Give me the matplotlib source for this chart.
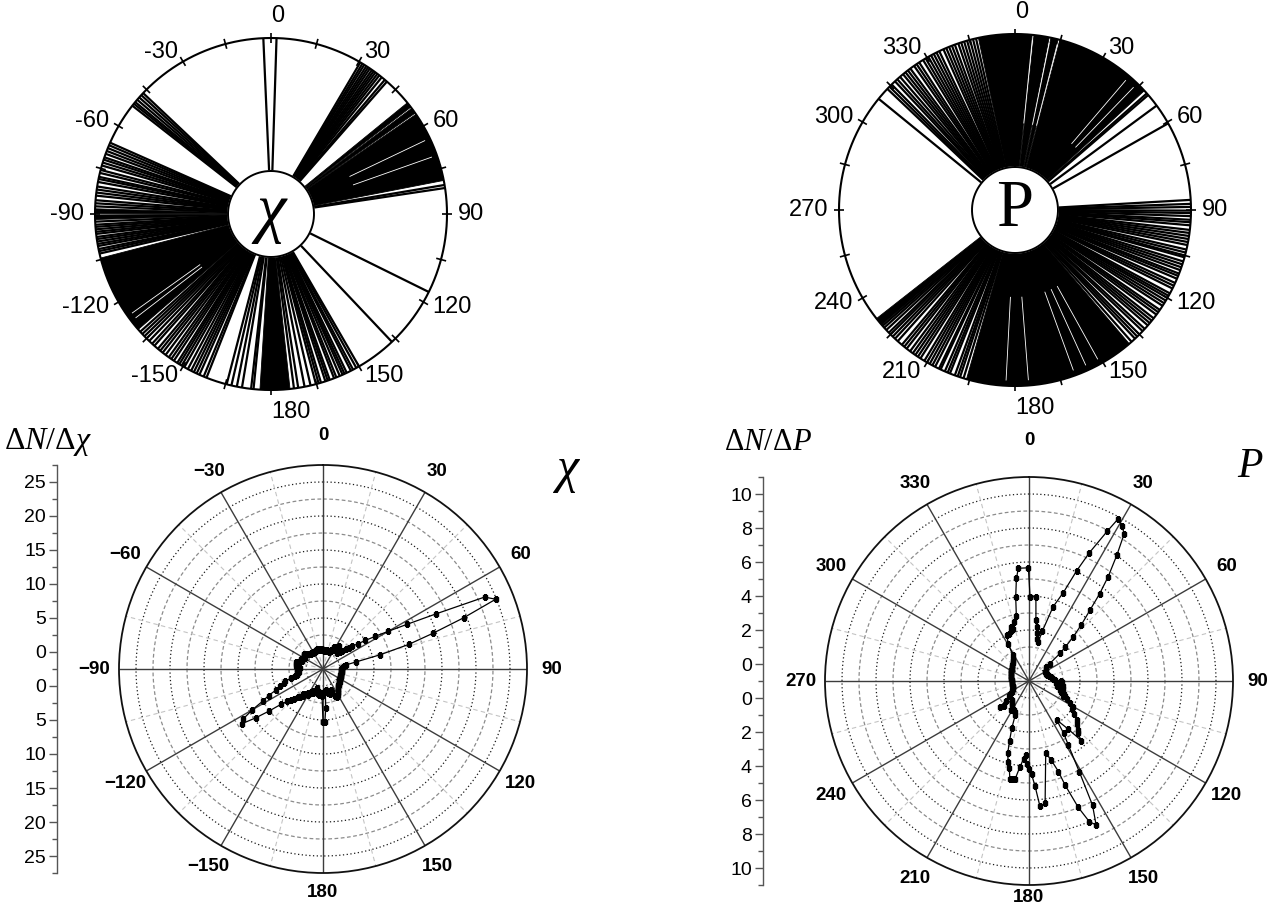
import numpy as np
import matplotlib
matplotlib.use("Agg")
import matplotlib.pyplot as plt
from matplotlib.transforms import ScaledTranslation

plt.rcParams["font.family"] = ["Liberation Sans", "DejaVu Sans"]
plt.rcParams["mathtext.fontset"] = "custom"
plt.rcParams["mathtext.rm"] = "Liberation Serif"
plt.rcParams["mathtext.it"] = "Liberation Serif:italic"

# ---------------- data ----------------
# individual directions (deg, clockwise from top) drawn as spokes in the wheels
chi_spokes = [-2.5, 1.8,
              30.5, 31.3, 32.0, 32.8, 33.5, 34.2, 35.0, 35.7, 36.4, 37.2, 38.0, 39.0, 40.3, 41.2,
              80.5, 81.5, 116.3, 136.6,
              150.0, 151.0, 152.2, 153.0, 154.5, 155.3, 156.0, 157.0, 158.2, 159.0, 160.5, 161.2,
              162.0, 163.5, 164.3, 165.2, 167.0, 169.0, 171.1, 172.5,
              -174.3, -173.5, -170.5, -168.8, -167.0, -165.4,
              -158.5, -157.5, -156.0, -155.0, -154.0, -153.0, -151.8, -150.5, -149.5, -148.6,
              -147.8, -146.5, -145.5, -144.5, -143.2, -142.0, -141.0, -140.0, -138.5, -137.5,
              -136.2, -135.0, -134.0, -133.0, -132.0,
              -103.0, -102.2, -101.5, -100.5, -99.8, -99.0, -98.2, -97.5, -96.5, -95.8, -95.0,
              -94.2, -93.5, -92.5, -87.5, -86.5, -85.5,
              -84.0, -83.0, -82.0, -81.0, -79.5, -78.5, -77.8, -76.5, -75.5, -74.0, -73.0, -72.0,
              -71.2, -70.0, -69.0, -68.0, -67.0, -66.1,
              -52.0, -51.2, -50.5, -49.5, -48.5, -47.5, -46.6]
chi_bands = [(50.8, 52.6), (53.1, 55.0), (55.5, 79.0), (173.8, 183.6),
             (-131.0, -104.5), (-91.8, -90.3), (-89.8, -88.3)]
chi_gaps = [-127.5, -125.5, 64.5, 70.5]

p_spokes = [48.5, 49.2, 53.6, 60.5,
            86.7, 88.0, 89.0, 90.2, 91.0, 92.0, 93.2, 94.0, 95.0, 96.5, 97.5, 98.5, 99.5, 100.5,
            101.5, 103.0, 104.0, 105.0, 105.6, 107.0, 108.0, 109.0, 110.0, 111.2, 112.0, 113.0,
            114.5, 115.5, 116.5, 118.3, 119.2, 120.0, 121.0, 122.0, 123.0, 124.6, 125.5, 126.5,
            128.0, 129.0, 130.0, 131.0, 132.5, 133.5, 135.0, 136.0, 137.0, 138.5,
            197.0, 198.2, 199.0, 200.0, 201.7, 202.5, 203.5, 205.0, 205.6, 207.0, 208.0, 209.0,
            210.0, 211.0, 212.5, 213.5, 214.5, 215.5, 216.6, 218.0, 219.0, 220.0, 221.8, 223.0,
            224.0, 225.0, 225.8, 227.0, 228.0, 228.8,
            309.2, 313.5, 314.5, 315.5, 317.0, 318.0, 319.2, 320.5, 321.5, 322.5, 323.5, 325.0,
            326.0, 327.0, 328.5, 329.5, 330.5, 331.5, 332.5, 333.5, 334.5, 336.0, 337.0, 338.0,
            339.0, 340.0, 341.2, 342.2, 343.2, 344.2, 345.2, 346.2, 347.2]
p_bands = [(348.0, 365.6), (366.2, 371.2), (371.8, 374.2), (374.8, 407.3),
           (139.5, 196.0), (229.2, 231.9)]
p_gaps = [5.8, 11.6, 14.3, 40.5, 44.0, 151.0, 155.5, 160.0, 175.5, 183.0]

# distribution dN/dchi over chi (deg)
chi_angles = list(range(-180, 180, 2))
chi_density = [5.3, 1.5, 1.2, 1.0, 1.3, 1.0, 0.8, 1.2, 0.8, 0.5,
               0.9, 1.3, 1.0, 1.5, 1.3, 1.9, 1.6, 2.0, 2.4, 2.2,
               2.8, 3.0, 3.6, 4.0, 4.6, 5.6, 7.5, 9.7, 11.9, 11.3,
               9.5, 7.5, 6.4, 5.0, 4.3, 3.6, 3.3, 2.4, 1.8, 1.4,
               1.3, 1.1, 1.4, 1.2, 1.3, 1.2, 0.9, 1.3, 1.5, 1.2,
               1.6, 1.4, 1.6, 1.3, 1.1, 0.8, 0.9, 1.0, 0.7, 0.9,
               0.8, 0.6, 0.8, 0.9, 1.1, 0.7, 0.9, 0.6, 0.5, 0.4,
               0.4, 0.3, 0.4, 0.3, 0.3, 0.4, 0.3, 0.3, 0.4, 0.3,
               0.4, 0.5, 0.5, 0.4, 0.5, 0.4, 0.3, 0.4, 0.5, 0.4,
               0.3, 0.3, 0.2, 0.3, 0.2, 0.3, 0.3, 0.2, 0.3, 0.2,
               0.3, 0.5, 0.4, 0.8, 1.1, 0.8, 1.4, 1.3, 1.6, 1.2,
               0.9, 0.6, 1.0, 1.4, 2.0, 2.4, 2.9, 3.8, 5.0, 6.6,
               8.6, 11.5, 16.0, 23.5, 24.9, 19.5, 14.5, 10.6, 6.2, 2.5,
               0.9, 0.6, 0.4, 0.3, 0.3, 0.2, 0.2, 0.3, 0.2, 0.3,
               0.3, 0.2, 0.3, 0.3, 0.2, 0.3, 0.3, 0.4, 0.3, 0.4,
               0.3, 0.4, 0.5, 0.4, 0.6, 0.5, 0.7, 0.8, 0.7, 0.9,
               1.0, 1.2, 1.3, 1.5, 1.7, 1.9, 2.0, 2.1, 1.9, 1.2,
               0.8, 1.0, 1.3, 0.9, 1.1, 0.8, 0.6, 0.8, 3.3, 5.3]

# distribution dN/dP over P (deg)
p_angles = [0.7, 4.7, 6.5, 8, 9.1, 11, 13.3, 15, 18, 21.2, 23.4, 25.2, 27.6, 28.8, 31, 32.9,
            34.9, 37.2, 39, 40.7, 43, 45, 47, 48.3, 50, 52, 55, 58, 61, 64, 67, 70, 73, 76, 79,
            82, 85, 88, 90, 92, 94, 96, 98, 100, 102, 104, 106, 108, 110, 112, 114, 116, 118,
            120, 123, 126, 129, 132, 134.8, 137, 138.7, 141, 144.6, 146.5, 148.4, 151, 152.9,
            155, 156.8, 158.7, 160.9, 162, 164.4, 167, 172.5, 175, 176.7, 178.4, 180, 181.6,
            182.6, 184, 186, 188, 189.5, 191, 192.7, 194.5, 196.4, 198, 200, 202, 205, 208,
            211, 214, 217, 220, 222, 225, 227.8, 230, 233, 236, 239, 242, 245, 248, 251, 254,
            257, 260, 263, 266, 269, 272, 275, 278, 281, 284, 287, 290, 293, 296, 299, 302,
            305, 308, 311, 314, 318, 321, 324, 328, 331, 334, 337, 340, 342, 343, 346, 349,
            351, 353, 354.6, 359.7]
p_density = [3.96, 3.96, 2.6, 2.2, 1.84, 1.5, 1.38, 2.05, 3.6, 4.57, 6.07, 7.34, 8.95, 9.88,
             9.64, 9.3, 8.04, 6.7, 5.6, 4.5, 3.5, 2.7, 1.9, 1.44, 0.6, 0.3, 0.2, 0.15, 0.1,
             0.1, 0.1, 0.1, 0.15, 0.2, 0.3, 0.35, 0.4, 0.55, 0.9, 0.95, 0.6, 0.9, 1.0, 0.7,
             0.85, 1.05, 0.9, 1.0, 1.2, 1.3, 1.2, 1.46, 1.7, 2.0, 2.0, 2.3, 2.6, 2.8, 3.1, 3.2,
             3.67, 2.6, 1.8, 2.7, 3.4, 5.1, 7.2, 8.34, 8.0, 6.98, 5.47, 4.6, 3.8, 3.37, 6.26,
             6.4, 5.2, 4.5, 4.2, 3.9, 3.36, 3.6, 4.07, 4.8, 4.85, 4.9, 4.27, 3.9, 3.44, 2.7,
             1.97, 1.16, 1.0, 0.9, 1.0, 0.8, 0.7, 0.6, 0.5, 1.1, 1.3, 0.8, 0.5, 0.35, 0.2, 0.1,
             0.05, 0.0, 0.0, 0.0, 0.05, 0.0, 0.0, 0.0, 0.0, 0.0, 0.05, 0.05, 0.1, 0.1, 0.1,
             0.15, 0.15, 0.2, 0.2, 0.25, 0.2, 0.3, 0.3, 0.35, 0.39, 0.5, 0.6, 0.8, 1.5, 2.0,
             2.0, 2.1, 2.37, 2.2, 2.6, 2.9, 4.0, 5.08, 5.66, 5.66]

label_angles = [0, 30, 60, 90, 120, 150, 180, 210, 240, 270, 300, 330]
chi_labels = ["0", "30", "60", "90", "120", "150", "180", "-150", "-120", "-90", "-60", "-30"]
p_labels = [str(a) for a in label_angles]

chi_axis_major = [0, 5, 10, 15, 20, 25]
p_axis_major = [0, 2, 4, 6, 8, 10]

# ---------------- figure ----------------
W, H, DPI = 1267, 913, 100
fig = plt.figure(figsize=(W / DPI, H / DPI), dpi=DPI)
fig.patch.set_facecolor("white")


def box(cx, cy, half):
    return [(cx - half) / W, 1 - (cy + half) / H, 2 * half / W, 2 * half / H]


def polar_axes(cx, cy, half):
    ax = fig.add_axes(box(cx, cy, half), projection="polar")
    ax.set_theta_zero_location("N")
    ax.set_theta_direction(-1)
    return ax


def wheel(cx, cy, R, r_in_px, spokes, bands, gaps, labels, letter, letter_style):
    ax = polar_axes(cx, cy, R)
    ax.set_ylim(0, 1)
    ax.set_axis_off()
    r_in = r_in_px / R
    for a, b in bands:
        ax.bar(np.deg2rad((a + b) / 2), 1 - r_in, width=np.deg2rad(b - a), bottom=r_in,
               color="black", edgecolor="black", linewidth=0.6, zorder=2)
    ax.vlines(np.deg2rad(spokes), r_in, 1, color="black", linewidth=1.6, zorder=2)
    ax.vlines(np.deg2rad(gaps), r_in + 0.25, 0.97, color="white", linewidth=0.6, zorder=2)
    th = np.linspace(0, 2 * np.pi, 721)
    ax.fill(th, np.full_like(th, r_in), color="white", zorder=3)
    ax.plot(th, np.full_like(th, r_in), color="black", linewidth=1.4, zorder=4)
    ax.plot(th, np.ones_like(th), color="black", linewidth=1.5, zorder=4, clip_on=False)
    ax.vlines(np.deg2rad(np.arange(0, 360, 15)), 0.972, 1.03, color="black",
              linewidth=1.2, zorder=4, clip_on=False)
    for ang, txt in zip(label_angles, labels):
        ha = "left" if ang <= 180 else "right"
        va = "center"
        if ang == 0:
            va = "bottom"
        elif ang == 180:
            va = "top"
        ax.text(np.deg2rad(ang), 1.06, txt, ha=ha, va=va, fontsize=17, clip_on=False)
    ax.text(0, 0, letter, ha="center", va="center", fontsize=48, zorder=5,
            family="Liberation Serif", style=letter_style)
    return ax


def rose(cx, cy, R, rmin, rmax, step, angles, values, labels, pole_lift):
    ax = polar_axes(cx, cy, R)
    ax.set_ylim(rmin, rmax)
    ax.set_xticks([])
    ax.set_yticks([])
    ax.grid(False)
    ax.spines["polar"].set_color("#111111")
    ax.spines["polar"].set_linewidth(1.3)
    th = np.linspace(0, 2 * np.pi, 721)
    n = int(round((rmax - rmin) / step))
    for k in range(1, n):
        r = rmin + k * step
        if k % 2:
            ax.plot(th, np.full_like(th, r), color="#1a1a1a", linewidth=0.9,
                    linestyle=(0, (1, 2)), zorder=1)
        else:
            ax.plot(th, np.full_like(th, r), color="#8c8c8c", linewidth=0.9,
                    linestyle=(0, (3, 2)), zorder=1)
    ax.vlines(np.deg2rad(np.arange(15, 360, 30)), rmin, rmax, color="#c4c4c4",
              linewidth=0.8, linestyles=(0, (4, 3)), zorder=1)
    ax.vlines(np.deg2rad(np.arange(0, 360, 30)), rmin, rmax, color="#3c3c3c",
              linewidth=1.0, zorder=2)
    t = np.deg2rad(list(angles) + [angles[0]])
    v = list(values) + [values[0]]
    ax.plot(t, v, color="black", linewidth=0.9, marker="s", markersize=3.2,
            markerfacecolor="black", markeredgecolor="black", zorder=5)
    lab_r = rmin + 1.12 * (rmax - rmin)
    lifted = ax.transData + ScaledTranslation(0, pole_lift / DPI, fig.dpi_scale_trans)
    for ang, txt in zip(label_angles, labels):
        tr = lifted if ang in (0, 180) else ax.transData
        ax.text(np.deg2rad(ang), lab_r, txt.replace("-", "\u2212"), ha="center", va="center",
                fontsize=13.5, fontweight="bold", clip_on=False, transform=tr)
    return ax


def side_axis(x_px, cy, R, rmin, rmax, major, minor_step):
    span = rmax - rmin
    ax = fig.add_axes([x_px / W, (H - cy - R) / H, 40 / W, 2 * R / H])
    ax.set_ylim(-span, span)
    ax.set_xlim(0, 1)
    ax.patch.set_visible(False)
    for s in ("top", "right", "bottom"):
        ax.spines[s].set_visible(False)
    ax.spines["left"].set_color("#555555")
    ax.spines["left"].set_linewidth(1.0)
    ax.set_xticks([])
    pos = [v - rmin for v in major] + [-(v - rmin) for v in major]
    labs = [str(v) for v in major] * 2
    ax.set_yticks(pos, labs)
    minor_vals = np.arange(rmin, rmax + 1e-9, minor_step)
    mpos = sorted(set([round(v - rmin, 6) for v in minor_vals] +
                      [round(-(v - rmin), 6) for v in minor_vals]))
    ax.set_yticks(mpos, minor=True)
    ax.tick_params(axis="y", which="major", length=6, width=1.0, color="#555555",
                   labelsize=14, pad=2)
    ax.tick_params(axis="y", which="minor", length=3.5, width=1.0, color="#555555")
    return ax


# top wheels
wheel(271, 214, 176, 43, chi_spokes, chi_bands, chi_gaps, chi_labels, "\u03c7", "italic")
wheel(1015, 210, 176, 43, p_spokes, p_bands, p_gaps, p_labels, "P", "normal")

# bottom polar distributions
rose(323, 669, 204, -2.5, 27.5, 2.5, chi_angles, chi_density, chi_labels, 5)
rose(1029, 681, 204, -1.0, 11.0, 1.0, p_angles, p_density, p_labels, 12)

side_axis(57, 669, 204, -2.5, 27.5, chi_axis_major, 2.5)
side_axis(763, 681, 204, -1.0, 11.0, p_axis_major, 1.0)

fig.text(48 / W, 1 - 442 / H, r"$\Delta N/\Delta\chi$", ha="center", va="center", fontsize=23)
fig.text(768 / W, 1 - 442 / H, r"$\Delta N/\Delta P$", ha="center", va="center", fontsize=22)
fig.text(568 / W, 1 - 470 / H, "\u03c7", ha="center", va="center", fontsize=36,
         family="Liberation Serif", style="italic")
fig.text(1250 / W, 1 - 467 / H, "P", ha="center", va="center", fontsize=30,
         family="Liberation Serif", style="italic")

fig.savefig("out.png", dpi=DPI, facecolor="white")
